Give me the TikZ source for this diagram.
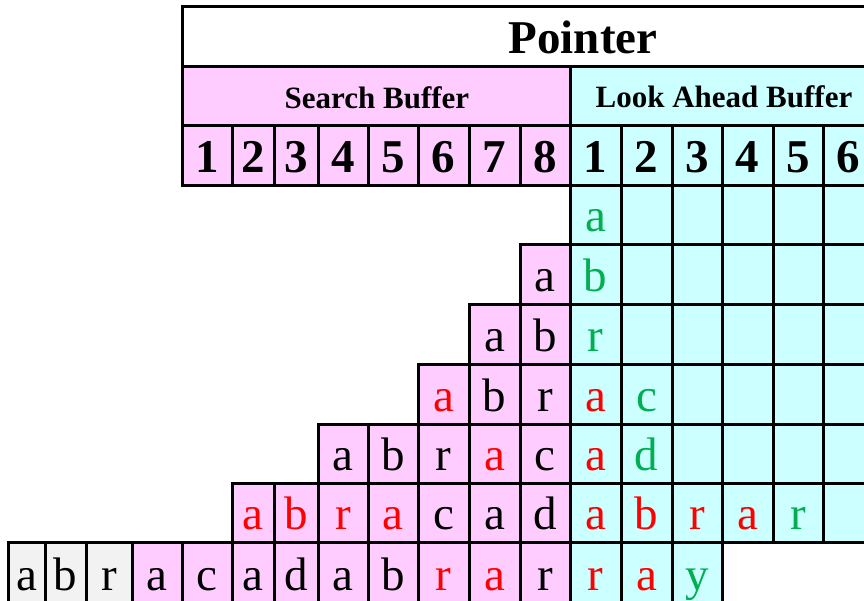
\documentclass[tikz,border=0pt]{standalone}
\usepackage{fontspec}
\setmainfont{Liberation Serif}
\definecolor{sbpink}{HTML}{FFCCFF}
\definecolor{lacyan}{HTML}{CCFFFF}
\definecolor{oldgray}{HTML}{F2F2F2}
\definecolor{hitred}{HTML}{FF0000}
\definecolor{newgreen}{HTML}{00B050}
\tikzset{
  cellline/.style={line width=3pt, draw=black},
  celltext/.style={anchor=base, inner sep=0pt, font=\fontsize{47}{47}\selectfont},
  numtext/.style={anchor=base, inner sep=0pt, font=\fontsize{47}{47}\selectfont\bfseries},
  headtext/.style={anchor=base, inner sep=0pt, font=\fontsize{31}{31}\selectfont\bfseries},
}
% name, x1, x2, y1, y2, fill, text colour, letter
\newcommand\lzcell[8]{%
  \filldraw[cellline, fill=#6] (#2,#4) rectangle (#3,#5);
  \node[celltext, text=#7] (#1) at ({(#2+#3)/2}, {#5-13}) {#8};
}
\begin{document}
\begin{tikzpicture}[x=1pt, y=-1pt]
\useasboundingbox (0,0) rectangle (864,601);
\clip (0,0) rectangle (864,601);
% header rows
\filldraw[cellline, fill=white] (182,7) rectangle (880,67);
\node[anchor=base, inner sep=0pt, font=\fontsize{47}{47}\selectfont\bfseries] (pointer) at (583,54) {Pointer};
\filldraw[cellline, fill=sbpink] (182,67) rectangle (570,126);
\node[headtext] (sbuf) at (377,109) {Search Buffer};
\filldraw[cellline, fill=lacyan] (570,67) rectangle (880,126);
\node[headtext] (labuf) at (724,108) {Look Ahead Buffer};
% number row
\foreach \xa/\xb/\n [count=\i] in {182/232/1,232/274/2,274/318/3,318/368/4,368/418/5,418/469/6,469/520/7,520/570/8}{
  \filldraw[cellline, fill=sbpink] (\xa,126) rectangle (\xb,186);
  \node[numtext] (s\i) at ({(\xa+\xb)/2},173) {\n};
}
\foreach \xa/\xb/\n [count=\i] in {570/621/1,621/672/2,672/722/3,722/773/4,773/823/5,823/874/6}{
  \filldraw[cellline, fill=lacyan] (\xa,126) rectangle (\xb,186);
  \node[numtext] (l\i) at ({(\xa+\xb)/2},173) {\n};
}
% row 1
\lzcell{r1c9}{570}{621}{186}{245}{lacyan}{newgreen}{a}
\lzcell{r1c10}{621}{672}{186}{245}{lacyan}{black}{}
\lzcell{r1c11}{672}{722}{186}{245}{lacyan}{black}{}
\lzcell{r1c12}{722}{773}{186}{245}{lacyan}{black}{}
\lzcell{r1c13}{773}{823}{186}{245}{lacyan}{black}{}
\lzcell{r1c14}{823}{874}{186}{245}{lacyan}{black}{}
% row 2
\lzcell{r2c8}{520}{570}{245}{305}{sbpink}{black}{a}
\lzcell{r2c9}{570}{621}{245}{305}{lacyan}{newgreen}{b}
\lzcell{r2c10}{621}{672}{245}{305}{lacyan}{black}{}
\lzcell{r2c11}{672}{722}{245}{305}{lacyan}{black}{}
\lzcell{r2c12}{722}{773}{245}{305}{lacyan}{black}{}
\lzcell{r2c13}{773}{823}{245}{305}{lacyan}{black}{}
\lzcell{r2c14}{823}{874}{245}{305}{lacyan}{black}{}
% row 3
\lzcell{r3c7}{469}{520}{305}{364}{sbpink}{black}{a}
\lzcell{r3c8}{520}{570}{305}{364}{sbpink}{black}{b}
\lzcell{r3c9}{570}{621}{305}{364}{lacyan}{newgreen}{r}
\lzcell{r3c10}{621}{672}{305}{364}{lacyan}{black}{}
\lzcell{r3c11}{672}{722}{305}{364}{lacyan}{black}{}
\lzcell{r3c12}{722}{773}{305}{364}{lacyan}{black}{}
\lzcell{r3c13}{773}{823}{305}{364}{lacyan}{black}{}
\lzcell{r3c14}{823}{874}{305}{364}{lacyan}{black}{}
% row 4
\lzcell{r4c6}{418}{469}{364}{424}{sbpink}{hitred}{a}
\lzcell{r4c7}{469}{520}{364}{424}{sbpink}{black}{b}
\lzcell{r4c8}{520}{570}{364}{424}{sbpink}{black}{r}
\lzcell{r4c9}{570}{621}{364}{424}{lacyan}{hitred}{a}
\lzcell{r4c10}{621}{672}{364}{424}{lacyan}{newgreen}{c}
\lzcell{r4c11}{672}{722}{364}{424}{lacyan}{black}{}
\lzcell{r4c12}{722}{773}{364}{424}{lacyan}{black}{}
\lzcell{r4c13}{773}{823}{364}{424}{lacyan}{black}{}
\lzcell{r4c14}{823}{874}{364}{424}{lacyan}{black}{}
% row 5
\lzcell{r5c4}{318}{368}{424}{483}{sbpink}{black}{a}
\lzcell{r5c5}{368}{418}{424}{483}{sbpink}{black}{b}
\lzcell{r5c6}{418}{469}{424}{483}{sbpink}{black}{r}
\lzcell{r5c7}{469}{520}{424}{483}{sbpink}{hitred}{a}
\lzcell{r5c8}{520}{570}{424}{483}{sbpink}{black}{c}
\lzcell{r5c9}{570}{621}{424}{483}{lacyan}{hitred}{a}
\lzcell{r5c10}{621}{672}{424}{483}{lacyan}{newgreen}{d}
\lzcell{r5c11}{672}{722}{424}{483}{lacyan}{black}{}
\lzcell{r5c12}{722}{773}{424}{483}{lacyan}{black}{}
\lzcell{r5c13}{773}{823}{424}{483}{lacyan}{black}{}
\lzcell{r5c14}{823}{874}{424}{483}{lacyan}{black}{}
% row 6
\lzcell{r6c2}{232}{274}{483}{542}{sbpink}{hitred}{a}
\lzcell{r6c3}{274}{318}{483}{542}{sbpink}{hitred}{b}
\lzcell{r6c4}{318}{368}{483}{542}{sbpink}{hitred}{r}
\lzcell{r6c5}{368}{418}{483}{542}{sbpink}{hitred}{a}
\lzcell{r6c6}{418}{469}{483}{542}{sbpink}{black}{c}
\lzcell{r6c7}{469}{520}{483}{542}{sbpink}{black}{a}
\lzcell{r6c8}{520}{570}{483}{542}{sbpink}{black}{d}
\lzcell{r6c9}{570}{621}{483}{542}{lacyan}{hitred}{a}
\lzcell{r6c10}{621}{672}{483}{542}{lacyan}{hitred}{b}
\lzcell{r6c11}{672}{722}{483}{542}{lacyan}{hitred}{r}
\lzcell{r6c12}{722}{773}{483}{542}{lacyan}{hitred}{a}
\lzcell{r6c13}{773}{823}{483}{542}{lacyan}{newgreen}{r}
\lzcell{r6c14}{823}{874}{483}{542}{lacyan}{black}{}
% row 7
\lzcell{r7g1}{8}{45}{542}{603}{oldgray}{black}{a}
\lzcell{r7g2}{45}{86}{542}{603}{oldgray}{black}{b}
\lzcell{r7g3}{86}{132}{542}{603}{oldgray}{black}{r}
\lzcell{r7c0}{132}{182}{542}{603}{sbpink}{black}{a}
\lzcell{r7c1}{182}{232}{542}{603}{sbpink}{black}{c}
\lzcell{r7c2}{232}{274}{542}{603}{sbpink}{black}{a}
\lzcell{r7c3}{274}{318}{542}{603}{sbpink}{black}{d}
\lzcell{r7c4}{318}{368}{542}{603}{sbpink}{black}{a}
\lzcell{r7c5}{368}{418}{542}{603}{sbpink}{black}{b}
\lzcell{r7c6}{418}{469}{542}{603}{sbpink}{hitred}{r}
\lzcell{r7c7}{469}{520}{542}{603}{sbpink}{hitred}{a}
\lzcell{r7c8}{520}{570}{542}{603}{sbpink}{black}{r}
\lzcell{r7c9}{570}{621}{542}{603}{lacyan}{hitred}{r}
\lzcell{r7c10}{621}{672}{542}{603}{lacyan}{hitred}{a}
\lzcell{r7c11}{672}{722}{542}{603}{lacyan}{newgreen}{y}
\end{tikzpicture}
\end{document}
